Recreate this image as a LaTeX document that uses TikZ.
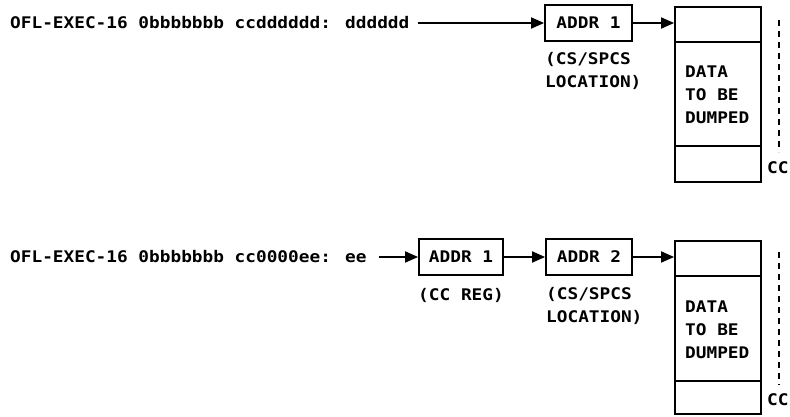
\documentclass[tikz,border=0pt]{standalone}
\usepackage{fontspec}
\setmainfont{DejaVu Sans Mono}[FakeStretch=1.11]
\usetikzlibrary{arrows.meta,calc}

\begin{document}
\begin{tikzpicture}[x=1pt,y=-1pt,
  txt/.style={font=\fontsize{16}{23}\selectfont\bfseries, inner sep=0pt},
  lbl/.style={txt, anchor=west, align=left},
  regbox/.style={txt, draw, line width=1.8pt, minimum height=36pt},
  cell/.style={draw, line width=1.8pt, minimum width=86pt, inner sep=0pt},
  link/.style={line width=1.8pt, -{Triangle[length=13pt,width=11pt]}},
  bound/.style={line width=1.4pt, dash pattern=on 6pt off 5pt},
]
\path[use as bounding box] (0,0) rectangle (790,417);
\clip (0,0) rectangle (790,417);

% ---------- first command: one level of indirection ----------
\node[lbl] (cmdA) at (10,23) {OFL-EXEC-16 0bbbbbbb ccdddddd: dddddd};
\node[regbox, minimum width=87pt] (addrA) at (588.5,23) {ADDR 1};
\node[lbl] (locA) at (545,71) {(CS/SPCS\\LOCATION)};

\node[cell, minimum height=35pt]  (topA) at (718,24.5) {};
\node[cell, minimum height=104pt] (midA) at (718,94) {};
\node[cell, minimum height=36pt]  (botA) at (718,164) {};
\node[lbl] (dataA) at (685,95) {DATA\\TO BE\\DUMPED};

\draw[link, shorten <=8pt] (cmdA.east) -- (addrA.west);
\draw[link] (addrA.east) -- (addrA.east -| topA.west);

\coordinate (edgeAtop) at (779,20);
\coordinate (edgeAbot) at (779,152);
\draw[bound] (edgeAtop) -- (edgeAbot);
\node[lbl] (ccA) at (767,168) {CC};

% ---------- second command: two levels of indirection ----------
\node[lbl] (cmdB) at (10,257) {OFL-EXEC-16 0bbbbbbb cc0000ee: ee};
\node[regbox, minimum width=84pt] (addrB) at (461,257) {ADDR 1};
\node[txt] (regB) at (461,295) {(CC REG)};
\node[regbox, minimum width=86pt] (addrC) at (589,257) {ADDR 2};
\node[lbl] (locC) at (546,306) {(CS/SPCS\\LOCATION)};

\node[cell, minimum height=35pt]  (topB) at (718,258.5) {};
\node[cell, minimum height=105pt] (midB) at (718,328.5) {};
\node[cell, minimum height=33pt]  (botB) at (718,397.5) {};
\node[lbl] (dataB) at (685,330) {DATA\\TO BE\\DUMPED};

\draw[link, shorten <=12pt] (cmdB.east) -- (addrB.west);
\draw[link] (addrB.east) -- (addrC.west);
\draw[link] (addrC.east) -- (addrC.east -| topB.west);

\coordinate (edgeBtop) at (779,252);
\coordinate (edgeBbot) at (779,385);
\draw[bound] (edgeBtop) -- (edgeBbot);
\node[lbl] (ccB) at (767,400) {CC};
\end{tikzpicture}
\end{document}
